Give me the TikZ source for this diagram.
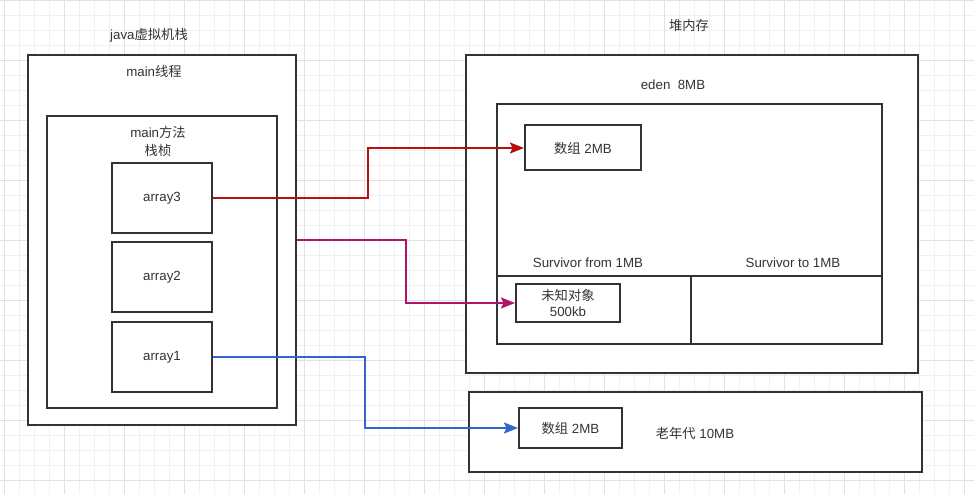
\documentclass[tikz,border=0pt]{standalone}
\usepackage{fontspec}
\setmainfont{Liberation Sans}
\newfontfamily\cjk{Noto Sans CJK SC}
\usetikzlibrary{arrows.meta}
\definecolor{bd}{HTML}{333333}
\definecolor{gminor}{HTML}{F0F0F0}
\definecolor{gmajor}{HTML}{E2E2E2}
\definecolor{cred}{HTML}{B81010}
\definecolor{cpink}{HTML}{B0146A}
\definecolor{cblue}{HTML}{3366CC}
\tikzset{
  box/.style={draw=bd, line width=2pt, fill=white, inner sep=0pt, text=bd},
  lbl/.style={inner sep=0pt, text=bd, align=center},
  conn/.style={line width=2pt, -{Stealth[length=14pt,width=11pt,inset=2.5pt]}},
}
\begin{document}
\begin{tikzpicture}[x=1pt,y=-1pt, font=\fontsize{13.3}{18}\selectfont]
\useasboundingbox (0,0) rectangle (974,494);
\fill[white] (0,0) rectangle (974,494);
% grid
\foreach \x in {4,19,...,974} \draw[gminor, line width=0.8pt] (\x,0) -- (\x,494);
\foreach \y in {0,15,...,494} \draw[gminor, line width=0.8pt] (0,\y) -- (974,\y);
\foreach \x in {4,64,...,974} \draw[gmajor, line width=0.8pt] (\x,0) -- (\x,494);
\foreach \y in {0,60,...,494} \draw[gmajor, line width=0.8pt] (0,\y) -- (974,\y);

% java stack
\node[lbl] (tjvm) at (149,35) {java{\cjk 虚拟机栈}};
\node[box, minimum width=268pt, minimum height=369pt] (mt) at (162,240) {};
\node[lbl] (tmt) at (154,71) {main{\cjk 线程}};
\node[box, minimum width=230pt, minimum height=292pt] (mf) at (162,262) {};
\node[lbl] (tmf) at (158,141.5) {main{\cjk 方法}\\{\cjk 栈桢}};
\node[box, minimum width=100pt, minimum height=70pt] (a3) at (162,198) {array3};
\node[box, minimum width=100pt, minimum height=70pt] (a2) at (162,277) {array2};
\node[box, minimum width=100pt, minimum height=70pt] (a1) at (162,357) {array1};

% heap
\node[lbl] (theap) at (689,25) {\cjk 堆内存};
\node[box, minimum width=452pt, minimum height=318pt] (heap) at (692,214) {};
\node[lbl] (teden) at (673,85) {eden~~8MB};
\node[box, minimum width=385pt, minimum height=240pt] (eden) at (689.5,224) {};
\coordinate (sl) at (497,276);
\coordinate (sr) at (882,276);
\coordinate (dt) at (691,276);
\coordinate (db) at (691,344);
\draw[bd, line width=2pt] (sl) -- (sr);
\draw[bd, line width=2pt] (dt) -- (db);
\node[lbl] (tsf) at (588,263) {Survivor from 1MB};
\node[lbl] (tst) at (793,263) {Survivor to 1MB};
\node[box, minimum width=116pt, minimum height=45pt] (earr) at (583,148) {{\cjk 数组} 2MB};
\node[box, minimum width=104pt, minimum height=38pt, align=center, font=\fontsize{13.3}{16}\selectfont] (unk) at (568,303) {{\cjk 未知对象}\\500kb};

% old generation
\node[box, minimum width=453pt, minimum height=80pt] (old) at (695.5,432) {};
\node[box, minimum width=103pt, minimum height=40pt] (oarr) at (570.5,428) {{\cjk 数组} 2MB};
\node[lbl] (told) at (695,433) {{\cjk 老年代} 10MB};

% connectors
\draw[conn, cred] (a3.east) -| (368,148) -- (earr.west);
\draw[conn, cpink] (mt.east) -| (406,303) -- (unk.west);
\draw[conn, cblue] (a1.east) -| (365,428) -- (oarr.west);
\end{tikzpicture}
\end{document}
